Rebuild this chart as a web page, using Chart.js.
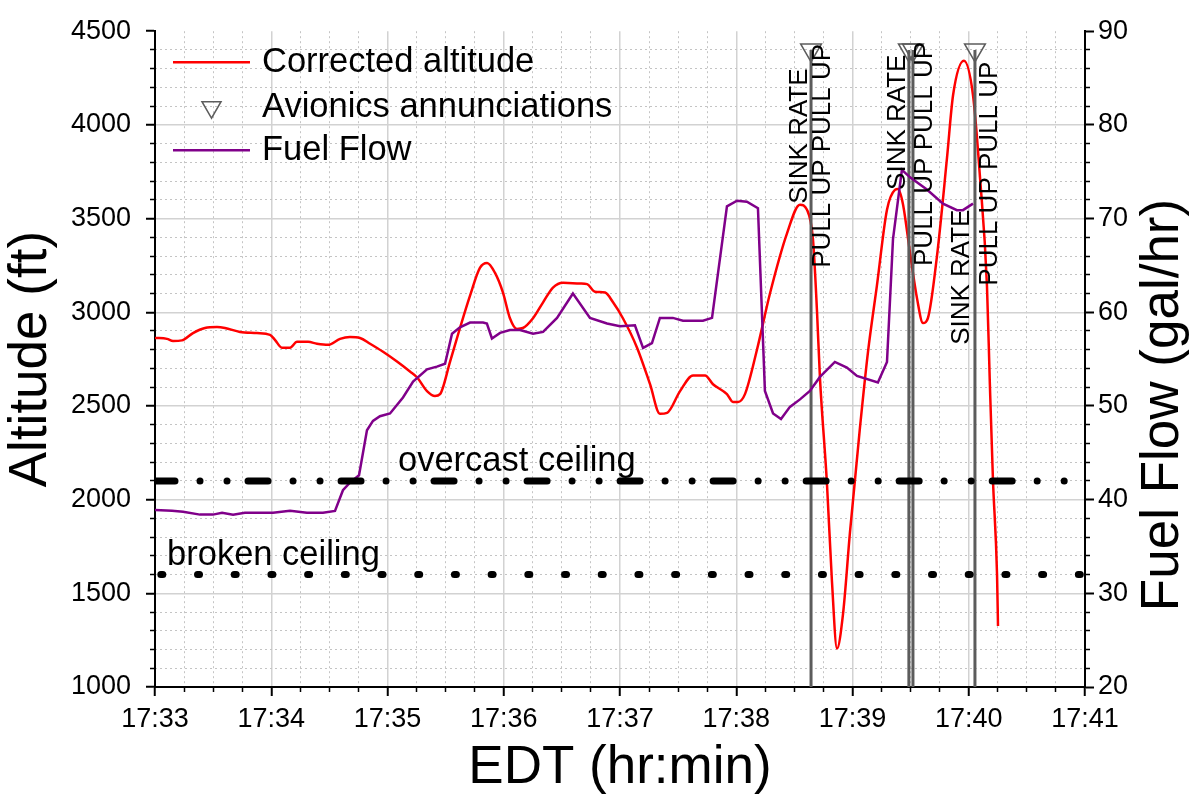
<!DOCTYPE html>
<html><head><meta charset="utf-8">
<script src="https://cdn.jsdelivr.net/npm/chart.js@4"></script>
<style>html,body{margin:0;padding:0;background:#fff;}canvas{display:block;}</style>
</head><body>
<canvas id="c" width="1189" height="806"></canvas>
<script>
const FONT = '"Liberation Sans", Arial, Helvetica, sans-serif';

// time: seconds after 17:33:00 EDT
const timeTickLabels = ['17:33','17:34','17:35','17:36','17:37','17:38','17:39','17:40','17:41'];

const altTime = [0,6.2,9.3,13.9,19.6,25.8,32.0,36.1,43.9,52.6,59.4,61.9,65.5,69.7,73.3,79.0,83.6,89.3,95.5,100.6,105.8,111.0,117.7,124.9,131.6,135.2,140.4,144.5,147.1,152.3,157.4,162.6,167.7,171.4,175.5,179.6,183.2,186.8,189.9,195.1,200.3,205.4,210.6,219.4,223.0,227.1,232.3,236.4,241.5,248.8,255.5,260.6,264.3,271.0,277.7,283.9,288.0,295.2,298.3,300.9,304.5,310.7,317.4,326.2,332.9,336.5,339.6,341.7,343.2,346.8,349.4,352.0,355.1,358.7,363.9,368.0,372.6,377.8,381.9,383.5,386.0,389.7,393.3,396.4,398.9,403.6,408.8,411.9,417.5,422.2,425.8,429.4,430.9,432.5,434.6,435.1];
const altFt = [2863,2858,2847,2850,2889,2916,2921,2916,2895,2889,2879,2853,2811,2811,2842,2842,2832,2826,2858,2868,2863,2832,2789,2737,2684,2653,2579,2553,2563,2737,2916,3089,3237,3263,3210,3105,2968,2911,2916,2968,3053,3132,3158,3153,3150,3110,3105,3053,2968,2811,2616,2458,2463,2579,2663,2663,2616,2563,2521,2521,2563,2800,3100,3421,3574,3547,3389,3000,2650,2089,1563,1205,1389,1826,2389,2789,3142,3547,3653,3658,3579,3316,3074,2942,2968,3300,3826,4158,4342,4158,3721,3142,2616,2105,1600,1326];

const fuelTime = [0,8.8,14.5,23.2,29.9,34.6,40.3,46.4,60.9,69.7,78.4,86.7,92.9,97.0,100.6,105.3,109.4,112.5,116.1,121.3,128.0,133.2,140.4,145.5,149.7,153.3,157.4,162.6,169.3,171.3,173.9,178.1,183.2,188.4,195.1,200.3,207.5,215.7,224.5,233.3,240.0,247.7,251.9,256.5,260.6,267.3,272.5,282.8,287.5,295.2,300.4,305.5,311.2,314.8,319.0,323.1,327.7,332.9,338.0,343.2,350.9,357.1,362.3,373.1,377.8,380.9,385.5,389.7,398.4,406.7,413.9,417.0,422.2];
const fuelGph = [38.9,38.8,38.7,38.4,38.4,38.6,38.4,38.6,38.6,38.8,38.6,38.6,38.8,41.0,41.8,42.6,47.4,48.4,48.9,49.2,50.9,52.6,53.9,54.2,54.5,57.7,58.4,58.9,58.9,58.8,57.2,57.8,58.1,58.1,57.7,57.9,59.4,62.0,59.4,58.8,58.5,58.6,56.2,56.7,59.4,59.4,59.1,59.1,59.4,71.3,71.9,71.8,71.1,51.6,49.2,48.6,49.9,50.7,51.6,53.1,54.7,54.1,53.2,52.5,54.7,67.8,75.2,74.4,73.1,71.6,70.9,70.9,71.6];

const annunciationTimes = [338.6, 389.1, 391.2, 423.2];
const annunciationMarkerAlt = 4400;
const overcastCeilingFt = 2100;
const brokenCeilingFt = 1600;

// text annotations (anchored in data coordinates)
const annunciationLabels = [
  {text:'SINK RATE', line:0, dx:-11, startAlt:3579},
  {text:'PULL UP PULL UP', line:0, dx:12, startAlt:3237},
  {text:'SINK RATE', line:1, dx:-11, startAlt:3653},
  {text:'PULL UP PULL UP', line:2, dx:12, startAlt:3247},
  {text:'SINK RATE', line:3, dx:-13, startAlt:2826},
  {text:'PULL UP PULL UP', line:3, dx:15, startAlt:3142}
];
const ceilingLabels = [
  {text:'overcast ceiling', t:125.4, alt:2153},
  {text:'broken ceiling', t:6.2, alt:1653}
];

const RED = '#ff0000', PURPLE = '#80008a', ANN = '#5c5c5c';
const toXY = (ts, vs) => ts.map((t, i) => ({x: t, y: vs[i]}));
const X_MIN = 0, X_MAX = 480;

const datasets = [
  {label:'Corrected altitude', data:toXY(altTime, altFt), xAxisID:'x', yAxisID:'y',
   borderColor:RED, borderWidth:2.5, pointRadius:0, cubicInterpolationMode:'monotone', order:3},
  ...annunciationTimes.map(t => ({label:'Avionics annunciations',
   data:[{x:t, y:1000}, {x:t, y:annunciationMarkerAlt}], xAxisID:'x', yAxisID:'y',
   borderColor:ANN, borderWidth:3, pointRadius:[0, 12], pointStyle:'triangle', pointRotation:180,
   pointBackgroundColor:'rgba(255,255,255,0)', pointBorderColor:ANN, pointBorderWidth:1.5, order:2})),
  {label:'Fuel Flow', data:toXY(fuelTime, fuelGph), xAxisID:'x', yAxisID:'y2',
   borderColor:PURPLE, borderWidth:2.5, pointRadius:0, tension:0, order:1},
  {label:'overcast ceiling', data:[{x:X_MIN, y:overcastCeilingFt}, {x:X_MAX, y:overcastCeilingFt}], xAxisID:'x', yAxisID:'y',
   borderColor:'#000', borderWidth:7, borderCapStyle:'round', borderDash:[20,25,0.01,27,0.01,21], pointRadius:0, order:0},
  {label:'broken ceiling', data:[{x:X_MIN + 3, y:brokenCeilingFt}, {x:X_MAX, y:brokenCeilingFt}], xAxisID:'x', yAxisID:'y',
   borderColor:'#000', borderWidth:7, borderCapStyle:'round', borderDash:[2,34.7], pointRadius:0, order:0}
];

const TRANSP = 'rgba(0,0,0,0)';
const MAJOR_GRID = '#d2d2d2', MINOR_GRID = '#c4c4c4';
const tickFont = {family:FONT, size:27};
const titleFont = {family:FONT, size:53};

const overlay = {
  id:'overlay',
  afterDatasetsDraw(chart) {
    const {ctx, chartArea:ca} = chart;
    const x = chart.scales.x, y = chart.scales.y;
    ctx.save();
    ctx.fillStyle = '#000';
    // ceiling labels
    ctx.font = '34.5px ' + FONT;
    ctx.textAlign = 'left'; ctx.textBaseline = 'alphabetic';
    ceilingLabels.forEach(l => ctx.fillText(l.text, x.getPixelForValue(l.t), y.getPixelForValue(l.alt)));
    // annunciation labels
    ctx.font = '26px ' + FONT;
    ctx.textBaseline = 'middle';
    annunciationLabels.forEach(l => {
      const px = x.getPixelForValue(annunciationTimes[l.line]) + l.dx;
      const py = y.getPixelForValue(l.startAlt);
      ctx.save(); ctx.translate(px, py); ctx.rotate(-Math.PI/2);
      ctx.fillText(l.text, 0, 0); ctx.restore();
    });
    // legend
    const lx = ca.left + 18, lw = 77, tx = ca.left + 107;
    const rows = [ca.top + 31, ca.top + 76, ca.top + 119];
    ctx.font = '34.5px ' + FONT; ctx.textAlign = 'left'; ctx.textBaseline = 'middle';
    ctx.lineWidth = 2.5;
    ctx.strokeStyle = RED; ctx.beginPath(); ctx.moveTo(lx, rows[0]); ctx.lineTo(lx + lw, rows[0]); ctx.stroke();
    ctx.fillText(datasets[0].label, tx, rows[0]);
    // triangle
    const cx = lx + lw/2, cy = rows[1], r = 11;
    ctx.strokeStyle = ANN; ctx.lineWidth = 1.5; ctx.beginPath();
    ctx.moveTo(cx, cy + r); ctx.lineTo(cx - r*0.866, cy - r/2); ctx.lineTo(cx + r*0.866, cy - r/2); ctx.closePath(); ctx.stroke();
    ctx.fillText('Avionics annunciations', tx, rows[1]);
    ctx.lineWidth = 2.5;
    ctx.strokeStyle = PURPLE; ctx.beginPath(); ctx.moveTo(lx, rows[2]); ctx.lineTo(lx + lw, rows[2]); ctx.stroke();
    ctx.fillText('Fuel Flow', tx, rows[2]);
    // right axis title (reads bottom to top)
    ctx.font = '53px ' + FONT; ctx.textAlign = 'center';
    ctx.save(); ctx.translate(1163, 405); ctx.rotate(-Math.PI/2);
    ctx.fillText('Fuel Flow (gal/hr)', 0, 0); ctx.restore();
    ctx.restore();
  }
};

new Chart(document.getElementById('c'), {
  type:'line',
  data:{datasets},
  options:{
    responsive:false, animation:false, events:[],
    layout:{padding:{top:22, left:0, right:0, bottom:0}},
    plugins:{legend:{display:false}, tooltip:{enabled:false}},
    scales:{
      x:{type:'linear', position:'bottom', min:X_MIN, max:X_MAX, weight:0,
        ticks:{stepSize:60, autoSkip:false, maxRotation:0, font:tickFont, color:'#000', padding:7,
          callback:v => timeTickLabels[Math.round(v/60)]},
        grid:{color:MAJOR_GRID, lineWidth:1.5, tickColor:'#000', tickLength:9, tickWidth:2},
        border:{color:'#000', width:2},
        title:{display:true, text:'EDT (hr:min)', font:titleFont, color:'#000', padding:{top:0, bottom:6}},
        afterFit:s => { s.height = 119; }},
      xm:{type:'linear', position:'bottom', min:X_MIN, max:X_MAX, weight:-1,
        ticks:{stepSize:15, display:false, autoSkip:false},
        grid:{color:c => c.tick.value % 60 === 0 ? TRANSP : MINOR_GRID, lineWidth:1,
          tickColor:c => c.tick.value % 60 === 0 ? TRANSP : '#000', tickLength:5, tickWidth:1.5},
        border:{display:false, dash:[2,3]},
        afterFit:s => { s.height = 0; }},
      y:{type:'linear', position:'left', min:1000, max:4500, weight:0,
        ticks:{stepSize:500, autoSkip:false, font:tickFont, color:'#000', padding:15, callback:v => String(v)},
        grid:{color:c => c.tick.value === 4500 ? TRANSP : MAJOR_GRID, lineWidth:1.5, tickColor:'#000', tickLength:9, tickWidth:2},
        border:{color:'#000', width:2},
        title:{display:true, text:'Altitude (ft)', font:titleFont, color:'#000', padding:{top:0, bottom:0}},
        afterFit:s => { s.width = 155; }},
      ym:{type:'linear', position:'left', min:1000, max:4500, weight:-1,
        ticks:{stepSize:100, display:false, autoSkip:false},
        grid:{color:c => (c.tick.value % 500 === 0) ? TRANSP : MINOR_GRID, lineWidth:1,
          tickColor:c => c.tick.value % 500 === 0 ? TRANSP : '#000', tickLength:5, tickWidth:1.5},
        border:{display:false, dash:[2,3]},
        afterFit:s => { s.width = 0; }},
      y2:{type:'linear', position:'right', min:20, max:90, weight:0,
        ticks:{stepSize:10, autoSkip:false, font:tickFont, color:'#000', padding:4},
        grid:{drawOnChartArea:false, tickColor:'#000', tickLength:9, tickWidth:2},
        border:{color:'#000', width:2},
        afterFit:s => { s.width = 104; }},
      y2m:{type:'linear', position:'right', min:20, max:90, weight:-1,
        ticks:{stepSize:2, display:false, autoSkip:false},
        grid:{drawOnChartArea:false, tickColor:c => c.tick.value % 10 === 0 ? TRANSP : '#000', tickLength:5, tickWidth:1.5},
        border:{display:false},
        afterFit:s => { s.width = 0; }}
    }
  },
  plugins:[overlay]
});
</script>
</body></html>
